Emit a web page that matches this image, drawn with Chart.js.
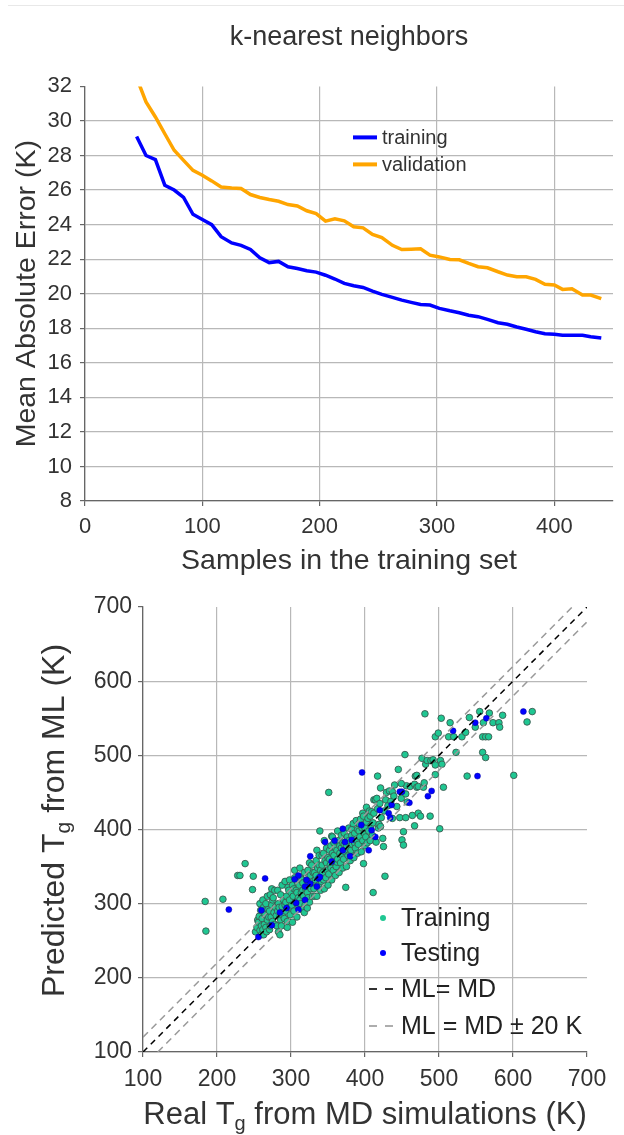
<!DOCTYPE html>
<html>
<head>
<meta charset="utf-8">
<script src="https://cdn.jsdelivr.net/npm/chart.js@4.4.1/dist/chart.umd.min.js"></script>
<style>
  html, body { margin: 0; padding: 0; background: #fff; }
  #page { position: relative; width: 624px; height: 1135px; overflow: hidden; }
  #rule { position: absolute; left: 8px; right: 0; top: 5px; border-top: 1px solid #e8e8e8; }
  #curveChart { position: absolute; left: 0; top: 0; }
  #parityChart { position: absolute; left: 0; top: 580px; }
</style>
</head>
<body>
<div id="page">
  <div id="rule"></div>
  <canvas id="curveChart" width="624" height="580"></canvas>
  <canvas id="parityChart" width="624" height="555"></canvas>
</div>
<script>
// learning curve (top)
const sampleSizes = [44, 52, 60, 68, 76, 84, 92, 100, 108, 116, 125, 133, 141, 149, 157, 165,
  173, 181, 189, 197, 205, 213, 221, 229, 237, 245, 253, 262, 270, 278, 286, 294,
  302, 311, 319, 327, 335, 343, 352, 360, 368, 376, 384, 392, 400, 407, 415, 424, 431, 440]
const trainingMAE = [29.1, 28.0, 27.76, 26.28, 26.0, 25.57, 24.6, 24.3, 24.0, 23.3, 22.94, 22.8, 22.56, 22.08, 21.8, 21.87,
  21.56, 21.46, 21.33, 21.25, 21.07, 20.85, 20.6, 20.46, 20.36, 20.15, 19.96, 19.79, 19.63, 19.5, 19.38, 19.34,
  19.15, 19.01, 18.9, 18.75, 18.67, 18.51, 18.32, 18.23, 18.07, 17.94, 17.8, 17.68, 17.65, 17.59, 17.59, 17.59, 17.51, 17.43]
const validationMAE = [32.5, 31.1, 30.23, 29.26, 28.3, 27.72, 27.14, 26.86, 26.53, 26.18, 26.12, 26.09, 25.74, 25.57, 25.45, 25.35,
  25.16, 25.08, 24.8, 24.64, 24.2, 24.33, 24.22, 23.87, 23.81, 23.43, 23.25, 22.8, 22.56, 22.58, 22.6, 22.23,
  22.13, 21.98, 21.96, 21.75, 21.56, 21.5, 21.27, 21.08, 20.98, 20.98, 20.83, 20.55, 20.5, 20.25, 20.29, 19.92, 19.92, 19.71]
const curveLabels = ['training', 'validation']

// parity plot (bottom): [real Tg, predicted Tg]
const trainingPoints = [
  [184,303],[185,263],[208,306],[228,338],[231,338],[238,354],[248,319],[249,337],
  [252,262],[254,268],[255,278],[256,275],[257,283],[258,264],[258,300],[259,291],[260,270],[260,258],
  [261,280],[262,265],[262,305],[263,295],[263,258],[264,272],[264,290],[265,285],[266,300],[266,268],
  [267,262],[268,278],[268,310],[269,292],[270,282],
  [271,290],[271,265],[272,270],[272,312],[273,282],[274,298],[274,320],[275,276],[275,305],[276,308],
  [277,288],[278,272],[278,318],[279,295],[280,284],
  [281,270],[282,290],[282,318],[283,262],[283,300],[284,295],[285,282],[285,258],[286,312],[286,278],
  [287,270],[288,296],[288,325],[289,284],[290,305],
  [291,280],[292,298],[292,330],[293,290],[293,302],[294,310],[295,268],[295,276],[296,322],[297,295],
  [297,318],[298,305],[298,332],[299,285],[300,315],
  [301,298],[302,325],[302,275],[303,310],[304,290],[304,320],[305,335],[305,345],[306,302],[307,318],
  [308,282],[308,315],[309,328],[310,308],[310,295],
  [311,325],[312,305],[312,348],[313,335],[313,300],[314,315],[315,292],[315,332],[316,328],[316,318],
  [317,310],[318,342],[318,288],[319,298],[320,320],
  [321,332],[322,315],[322,294],[323,345],[323,308],[324,325],[325,302],[325,355],[326,338],[327,320],
  [328,352],[328,328],[329,310],[330,330],[330,342],
  [331,320],[332,342],[332,310],[333,332],[334,358],[334,338],[335,310],[335,372],[336,348],[337,325],
  [338,365],[338,352],[339,335],[339,398],[340,318],[340,345],
  [341,330],[342,352],[342,365],[343,342],[344,368],[344,332],[345,320],[345,385],[346,358],[347,335],
  [348,375],[348,355],[349,345],[350,325],[350,362],[351,450],
  [351,340],[352,360],[352,372],[353,352],[354,378],[354,348],[355,332],[355,391],[356,368],[356,390],
  [357,345],[358,382],[358,365],[359,355],[360,338],[360,375],
  [361,350],[362,372],[362,356],[363,360],[363,398],[364,385],[365,342],[366,378],[366,368],[367,355],
  [368,392],[368,375],[369,365],[370,348],[370,382],
  [371,360],[372,380],[372,395],[373,370],[374,322],[375,350],[375,378],[376,390],[377,365],[378,402],
  [378,385],[379,375],[380,358],[380,368],
  [381,372],[382,392],[382,400],[383,380],[384,408],[385,362],[386,395],[386,382],[387,375],[388,412],
  [389,385],[390,368],[390,400],
  [391,380],[392,398],[392,408],[393,390],[394,414],[395,370],[396,402],[397,385],[397,422],[398,418],
  [398,354],[399,395],[400,378],[400,402],
  [401,390],[402,410],[402,430],[403,382],[404,415],[405,398],[406,425],[407,385],[407,418],[408,405],
  [409,424],[410,392],[411,315],[411,409],[412,422],[412,440],[414,440],[415,383],[416,442],[417,428],
  [417,472],[418,402],[419,407],[420,435],[421,456],[421,404],[422,416],[424,388],[425,377],[427,337],
  [428,440],[426,425],[429,450],[431,432],[433,452],[435,438],[437,451],[437,415],[439,445],[440,460],
  [443,431],[445,481],[447,416],[449,442],[450,386],[452,379],[452,397],[454,501],[455,448],[455,416],
  [456,459],[457,437],[449,462],[461,458],[464,419],[467,405],[467,461],[468,472],[470,457],[470,473],
  [472,422],[472,458],[475,418],[477,496],[479,457],[480,463],[481,556],[482,488],[484,493],[488,418],
  [489,493],[492,494],[495,487],[495,474],[495,525],[499,530],[501,401],[502,493],[503,550],[504,488],
  [506,457],[513,525],[515,544],[520,525],[523,504],[531,525],[536,531],[538,472],[541,551],[549,538],
  [555,559],[559,525],[559,504],[560,544],[563,525],[563,497],[567,525],[568,557],[573,544],[581,544],
  [582,538],[586,554],[601,473],[619,545],[626,559]
]
const testingPoints = [
  [216,292],[256,255],[260,291],[265,334],[274,271],[285,288],[294,294],[305,333],[307,301],[310,338],
  [310,292],[319,323],[319,305],[321,332],[326,327],[326,364],[335,323],[337,334],[339,336],[346,383],
  [355,357],[359,385],[370,372],[370,401],[373,383],[380,364],[382,386],[395,406],[396,477],[405,372],
  [409,399],[414,390],[420,426],[432,422],[434,416],[436,433],[447,451],[450,451],[460,436],[485,445],
  [490,452],[519,533],[549,544],[552,472],[564,550],[614,559]
]
const axisRange = [100, 700]
const toleranceK = 20
const parityLabels = ['Training', 'Testing', 'ML= MD', 'ML = MD \u00b1 20 K']

const FONT = "'Liberation Sans', Arial, sans-serif"
const TEXT = '#333'
const GRID = '#b8b8b8'
const AXIS = '#666'
const TEAL = '#1fc792'
const BLUE = '#0000ff'

Chart.defaults.font.family = FONT
Chart.defaults.color = TEXT

// hide the grid line that would sit on the top/right edge
function gridColor(max) {
    return ctx => (ctx.tick && ctx.tick.value === max) ? 'rgba(0,0,0,0)' : GRID
}

// legend of the learning curve, drawn inside the plot area
const curveLegend = {
    id: 'curveLegend',
    afterDraw(chart) {
        const { ctx, chartArea } = chart
        const x0 = chartArea.left + 268
        const y0 = chartArea.top + 51
        ctx.save()
        ctx.font = '20px ' + FONT
        ctx.textBaseline = 'middle'
        chart.data.datasets.forEach((ds, i) => {
            const y = y0 + i * 27
            ctx.strokeStyle = ds.borderColor
            ctx.lineWidth = 4
            ctx.beginPath()
            ctx.moveTo(x0, y)
            ctx.lineTo(x0 + 24, y)
            ctx.stroke()
            ctx.fillStyle = TEXT
            ctx.fillText(curveLabels[i], x0 + 29, y + 1)
        })
        ctx.restore()
    }
}

new Chart(document.getElementById('curveChart'), {
    type: 'line',
    data: {
        datasets: [
            {
                label: curveLabels[0],
                data: sampleSizes.map((n, i) => ({ x: n, y: trainingMAE[i] })),
                borderColor: BLUE, borderWidth: 3.5, pointRadius: 0, tension: 0
            },
            {
                label: curveLabels[1],
                data: sampleSizes.map((n, i) => ({ x: n, y: validationMAE[i] })),
                borderColor: '#ffa500', borderWidth: 3.5, pointRadius: 0, tension: 0
            }
        ]
    },
    options: {
        responsive: false,
        animation: false,
        layout: { padding: { left: 0, right: 11, top: 0, bottom: 0 } },
        plugins: {
            legend: { display: false },
            tooltip: { enabled: false },
            title: {
                display: true, text: 'k-nearest neighbors', fullSize: false,
                font: { size: 27, weight: 'normal' }, color: TEXT,
                padding: { top: 21, bottom: 33 }
            }
        },
        scales: {
            x: {
                type: 'linear', min: 0, max: 450,
                afterBuildTicks: s => { s.ticks = s.ticks.filter(t => t.value % 100 === 0) },
                afterFit: s => { s.height = 79 },
                ticks: { stepSize: 100, font: { size: 22 }, color: TEXT, padding: 8 },
                grid: { color: gridColor(450), lineWidth: 1.2, tickLength: 5, tickColor: AXIS },
                border: { color: AXIS, width: 1.3 },
                title: { display: true, text: 'Samples in the training set', font: { size: 28.5 }, color: TEXT, padding: { top: 0, bottom: 2 } }
            },
            y: {
                min: 8, max: 32,
                afterFit: s => { s.width = 85 },
                ticks: { stepSize: 2, font: { size: 22 }, color: TEXT, padding: 8 },
                grid: { color: gridColor(32), lineWidth: 1.2, tickLength: 5, tickColor: AXIS },
                border: { color: AXIS, width: 1.3 },
                title: { display: true, text: 'Mean Absolute Error (K)', font: { size: 28.5 }, color: TEXT, padding: { top: 10, bottom: 0 } }
            }
        }
    },
    plugins: [curveLegend]
})

// axis title with a subscript "g"
function drawSubTitle(ctx, pieces, cx, cy, size, rotate) {
    const subSize = Math.round(size * 0.66)
    ctx.save()
    ctx.translate(cx, cy)
    if (rotate) ctx.rotate(-Math.PI / 2)
    ctx.fillStyle = TEXT
    ctx.textBaseline = 'alphabetic'
    let total = 0
    const widths = pieces.map(p => {
        ctx.font = (p.sub ? subSize : size) + 'px ' + FONT
        const w = ctx.measureText(p.text).width
        total += w
        return w
    })
    let x = -total / 2
    const base = size * 0.36
    pieces.forEach((p, i) => {
        ctx.font = (p.sub ? subSize : size) + 'px ' + FONT
        ctx.fillText(p.text, x, p.sub ? base + size * 0.2 : base)
        x += widths[i]
    })
    ctx.restore()
}

const parityDecor = {
    id: 'parityDecor',
    afterDraw(chart) {
        const { ctx, chartArea: a } = chart
        const midX = (a.left + a.right) / 2
        const midY = (a.top + a.bottom) / 2
        drawSubTitle(ctx, [{ text: 'Real T' }, { text: 'g', sub: true }, { text: ' from MD simulations (K)' }],
            midX, a.bottom + 61, 31, false)
        drawSubTitle(ctx, [{ text: 'Predicted T' }, { text: 'g', sub: true }, { text: ' from ML (K)' }],
            52, midY - 9, 32, true)

        // legend
        const lx = a.left + 240
        const tx = a.left + 258
        const rows = [a.top + 311, a.top + 346, a.top + 382, a.top + 419]
        ctx.save()
        ctx.font = '25px ' + FONT
        ctx.textBaseline = 'middle'
        const dots = [TEAL, BLUE]
        dots.forEach((c, i) => {
            ctx.fillStyle = c
            ctx.beginPath()
            ctx.arc(lx, rows[i], 3, 0, Math.PI * 2)
            ctx.fill()
        })
        const dashes = ['#000', '#999']
        dashes.forEach((c, i) => {
            ctx.strokeStyle = c
            ctx.lineWidth = 1.6
            ctx.setLineDash([8, 8])
            ctx.beginPath()
            ctx.moveTo(lx - 14, rows[i + 2])
            ctx.lineTo(lx + 10, rows[i + 2])
            ctx.stroke()
        })
        ctx.setLineDash([])
        ctx.fillStyle = '#222'
        parityLabels.forEach((t, i) => ctx.fillText(t, tx, rows[i] + 1))
        ctx.restore()
    }
}

const lo = axisRange[0], hi = axisRange[1]
new Chart(document.getElementById('parityChart'), {
    type: 'scatter',
    data: {
        datasets: [
            {
                label: parityLabels[2], type: 'line', order: 0,
                data: [{ x: lo, y: lo }, { x: hi, y: hi }],
                borderColor: '#000', borderWidth: 1.5, borderDash: [6, 5], pointRadius: 0
            },
            {
                label: parityLabels[3], type: 'line', order: 0,
                data: [{ x: lo, y: lo + toleranceK }, { x: hi - toleranceK, y: hi }],
                borderColor: '#999', borderWidth: 1.5, borderDash: [7, 5], pointRadius: 0
            },
            {
                label: parityLabels[3], type: 'line', order: 0,
                data: [{ x: lo + toleranceK, y: lo }, { x: hi, y: hi - toleranceK }],
                borderColor: '#999', borderWidth: 1.5, borderDash: [7, 5], pointRadius: 0
            },
            {
                label: parityLabels[1], order: 1,
                data: testingPoints.map(p => ({ x: p[0], y: p[1] })),
                backgroundColor: BLUE, borderColor: '#0000a0', borderWidth: 0.5, pointRadius: 3
            },
            {
                label: parityLabels[0], order: 2,
                data: trainingPoints.map(p => ({ x: p[0], y: p[1] })),
                backgroundColor: TEAL, borderColor: '#3b5a50', borderWidth: 0.9, pointRadius: 3.3
            }
        ]
    },
    options: {
        responsive: false,
        animation: false,
        layout: { padding: { left: 0, right: 37, top: 27, bottom: 0 } },
        plugins: { legend: { display: false }, tooltip: { enabled: false } },
        scales: {
            x: {
                type: 'linear', min: lo, max: hi,
                afterFit: s => { s.height = 83 },
                ticks: { stepSize: 100, font: { size: 23 }, color: TEXT, padding: 9 },
                grid: { color: gridColor(hi), lineWidth: 1.2, tickLength: 5, tickColor: AXIS },
                border: { color: AXIS, width: 1.3 }
            },
            y: {
                min: lo, max: hi,
                afterFit: s => { s.width = 143 },
                ticks: { stepSize: 100, font: { size: 23 }, color: TEXT, padding: 6 },
                grid: { color: gridColor(hi), lineWidth: 1.2, tickLength: 5, tickColor: AXIS },
                border: { color: AXIS, width: 1.3 }
            }
        }
    },
    plugins: [parityDecor]
})
</script>
</body>
</html>
